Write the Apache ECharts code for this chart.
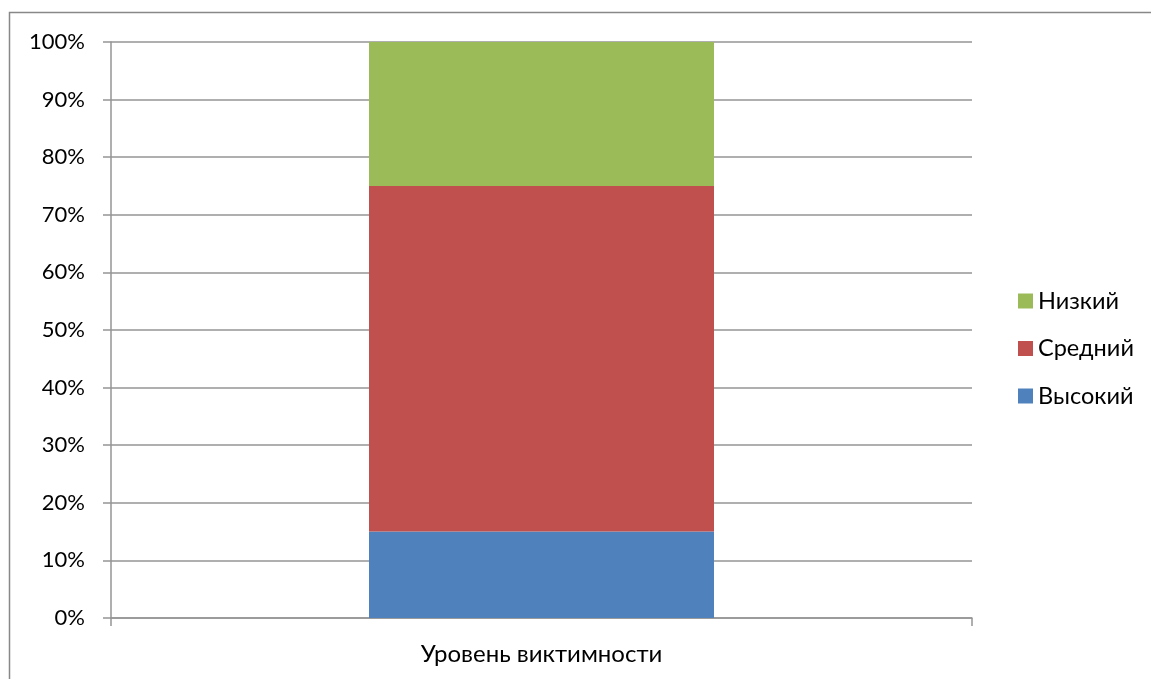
<!DOCTYPE html>
<html>
<head>
<meta charset="utf-8">
<script src="https://cdn.jsdelivr.net/npm/echarts@6/dist/echarts.min.js"></script>
<style>
  html, body { margin: 0; padding: 0; background: #fff; }
  #chart { width: 1151px; height: 679px; }
</style>
</head>
<body>
<div id="chart"></div>
<script>
// Victimization level distribution (100% stacked column)
const categories = ['Уровень виктимности'];
const seriesNames = ['Высокий', 'Средний', 'Низкий'];
const highValues = [15];
const mediumValues = [60];
const lowValues = [25];
const legendOrder = ['Низкий', 'Средний', 'Высокий'];
const yTicks = [0, 10, 20, 30, 40, 50, 60, 70, 80, 90, 100];

const colors = { 'Высокий': '#4F81BD', 'Средний': '#C0504D', 'Низкий': '#9BBB59' };
const valuesByName = { 'Высокий': highValues, 'Средний': mediumValues, 'Низкий': lowValues };

const font = 'Lato, "Open Sans", sans-serif';
const gridColor = '#959595';

const chart = echarts.init(document.getElementById('chart'), null, { renderer: 'canvas' });

chart.setOption({
  backgroundColor: '#fff',
  animation: false,
  graphic: [{
    type: 'rect',
    shape: { x: 9.5, y: 12.5, width: 1300, height: 800 },
    style: { fill: 'none', stroke: '#888', lineWidth: 1.5 },
    silent: true,
    z: -10
  }],
  grid: { left: 111, right: 179, top: 42, bottom: 61, containLabel: false },
  legend: {
    orient: 'vertical',
    left: 1013,
    top: 284,
    itemWidth: 15,
    itemHeight: 15,
    itemGap: 23.5,
    icon: 'rect',
    data: legendOrder,
    textStyle: { fontFamily: font, fontSize: 23.5, lineHeight: 24, color: '#000', padding: [0, 0, 0, 0] }
  },
  xAxis: {
    type: 'category',
    data: categories,
    boundaryGap: true,
    axisLine: { lineStyle: { color: gridColor, width: 1.5 } },
    axisTick: { show: true, length: 8, lineStyle: { color: gridColor, width: 1.5 } },
    axisLabel: { fontFamily: font, fontSize: 24, color: '#000', margin: 24 }
  },
  yAxis: {
    type: 'value',
    min: 0,
    max: 100,
    interval: 10,
    axisLine: { show: true, lineStyle: { color: gridColor, width: 1.5 } },
    axisTick: { show: true, length: 8, lineStyle: { color: gridColor, width: 1.5 } },
    splitLine: { show: true, lineStyle: { color: gridColor, width: 1.5 } },
    axisLabel: {
      fontFamily: font, fontSize: 22, color: '#000', margin: 26,
      formatter: v => (yTicks.includes(v) ? v + '%' : '')
    }
  },
  series: seriesNames.map(name => ({
    name,
    type: 'bar',
    stack: 'total',
    barWidth: 345,
    data: valuesByName[name],
    itemStyle: { color: colors[name] }
  }))
});
</script>
</body>
</html>
